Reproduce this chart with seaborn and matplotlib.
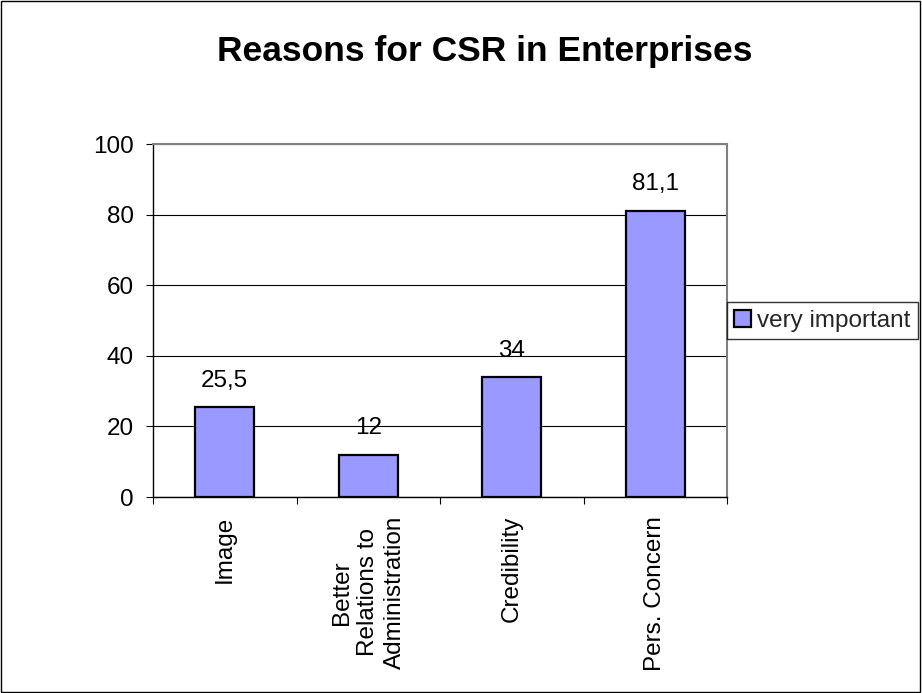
import matplotlib
matplotlib.use("Agg")
import matplotlib.pyplot as plt
import seaborn as sns
import pandas as pd
import numpy as np
from matplotlib.patches import Rectangle

categories = ["Image", "Better\nRelations to\nAdministration", "Credibility", "Pers. Concern"]
values = [25.5, 12, 34, 81.1]
value_labels = ["25,5", "12", "34", "81,1"]
series_name = "very important"
y_ticks = [0, 20, 40, 60, 80, 100]

sns.set_theme(style="white")
plt.rcParams['font.family'] = ['Liberation Sans', 'DejaVu Sans']

df = pd.DataFrame({"category": categories, "value": values, "series": [series_name] * len(values)})

fig = plt.figure(figsize=(9.22, 6.93), dpi=100)
ax = fig.add_axes([0.166, 0.2828, 0.6226, 0.5094])

sns.barplot(data=df, x="category", y="value", hue="series", palette=["#9999FF"],
            width=0.41, edgecolor="black", linewidth=1.6, ax=ax, saturation=1)

ax.set_ylim(0, 100)
ax.set_xlim(-0.5, len(categories) - 0.5)
ax.set_yticks(y_ticks)
ax.set_yticklabels([str(t) for t in y_ticks], fontsize=17.5, color="black")
ax.yaxis.grid(True, color="black", linewidth=0.8)
ax.set_axisbelow(True)
ax.tick_params(axis="y", length=5, width=0.8, color="black", direction="out", left=True, pad=9)

ax.set_xticks(range(len(categories)))
ax.set_xticklabels(categories, rotation=90, fontsize=17.5, color="black", ha="center", va="top",
                   multialignment="center", linespacing=1.25)
ax.tick_params(axis="x", length=0, pad=13.5)
ax.set_xticks(np.arange(-0.5, len(categories), 1.0), minor=True)
ax.tick_params(axis="x", which="minor", length=5, width=0.8, color="black", direction="out", bottom=True)

ax.set_xlabel("")
ax.set_ylabel("")

for s in ["top", "right"]:
    ax.spines[s].set_color("#808080")
    ax.spines[s].set_linewidth(1.5)
for s in ["left", "bottom"]:
    ax.spines[s].set_color("black")
    ax.spines[s].set_linewidth(1.0)

for i, (v, lab) in enumerate(zip(values, value_labels)):
    ax.annotate(lab, xy=(i, v), xytext=(0, 11), textcoords="offset points",
                ha="center", va="bottom", fontsize=17.5, color="black")

leg = ax.legend(loc="center left", bbox_to_anchor=(0.999, 0.5), frameon=True, fontsize=17.5,
                handlelength=0.7, handleheight=0.7, handletextpad=0.25, borderpad=0.3,
                fancybox=False, borderaxespad=0)
leg.get_frame().set_edgecolor("black")
leg.get_frame().set_linewidth(1.0)

fig.text(0.526, 0.925, "Reasons for CSR in Enterprises", ha="center", va="center",
         fontsize=25.5, fontweight="bold", color="black")

fig.patches.append(Rectangle((0.001, 0.002), 0.997, 0.996, transform=fig.transFigure,
                             fill=False, edgecolor="black", linewidth=1.0))

fig.savefig("out.png", dpi=100)
